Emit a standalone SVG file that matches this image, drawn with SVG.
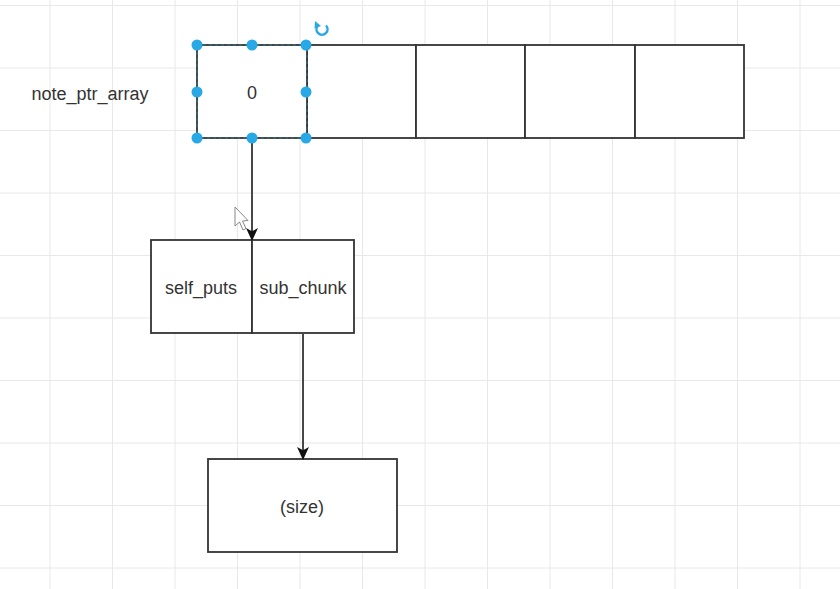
<svg xmlns="http://www.w3.org/2000/svg" width="840" height="589" viewBox="0 0 840 589">
<defs>
<style>
.grid line{stroke:#e8e8e8;stroke-width:1}
.box{fill:#ffffff;stroke:#333333;stroke-width:1.8}
.lbl{font-family:"Liberation Sans",Arial,sans-serif;font-size:18px;fill:#333333;text-anchor:middle;dominant-baseline:central}
.edge{stroke:#333333;stroke-width:1.8;fill:none}
.handle{fill:#29a8e6}
</style>
<marker id="arr" viewBox="0 0 12 12" refX="11" refY="6" markerWidth="13" markerHeight="13" markerUnits="userSpaceOnUse" orient="auto">
<path d="M0,0.5 L12,6 L0,11.5 L3,6 Z" fill="#111111"/>
</marker>
</defs>
<rect width="840" height="589" fill="#ffffff"/>
<g class="grid">
<line x1="50" y1="0" x2="50" y2="589"/>
<line x1="112.5" y1="0" x2="112.5" y2="589"/>
<line x1="175" y1="0" x2="175" y2="589"/>
<line x1="237.5" y1="0" x2="237.5" y2="589"/>
<line x1="300" y1="0" x2="300" y2="589"/>
<line x1="362.5" y1="0" x2="362.5" y2="589"/>
<line x1="425" y1="0" x2="425" y2="589"/>
<line x1="487.5" y1="0" x2="487.5" y2="589"/>
<line x1="550" y1="0" x2="550" y2="589"/>
<line x1="612.5" y1="0" x2="612.5" y2="589"/>
<line x1="675" y1="0" x2="675" y2="589"/>
<line x1="737.5" y1="0" x2="737.5" y2="589"/>
<line x1="800" y1="0" x2="800" y2="589"/>
<line x1="0" y1="5.5" x2="840" y2="5.5"/>
<line x1="0" y1="68" x2="840" y2="68"/>
<line x1="0" y1="130.5" x2="840" y2="130.5"/>
<line x1="0" y1="193" x2="840" y2="193"/>
<line x1="0" y1="255.5" x2="840" y2="255.5"/>
<line x1="0" y1="318" x2="840" y2="318"/>
<line x1="0" y1="380.5" x2="840" y2="380.5"/>
<line x1="0" y1="443" x2="840" y2="443"/>
<line x1="0" y1="505.5" x2="840" y2="505.5"/>
<line x1="0" y1="568" x2="840" y2="568"/>
</g>
<g id="label-note_ptr_array">
<text class="lbl" x="90" y="94">note_ptr_array</text>
</g>
<g id="cell1"><rect class="box" x="307" y="45" width="109" height="93"/></g>
<g id="cell2"><rect class="box" x="416" y="45" width="109" height="93"/></g>
<g id="cell3"><rect class="box" x="525" y="45" width="110" height="93"/></g>
<g id="cell4"><rect class="box" x="635" y="45" width="109" height="93"/></g>
<g id="cell0">
<rect class="box" x="197" y="45" width="110" height="93"/>
<rect x="197" y="45" width="110" height="93" fill="none" stroke="#2a7a8c" stroke-width="1" stroke-dasharray="3,3"/>
<text class="lbl" x="252" y="93">0</text>
</g>
<g id="self_puts">
<rect class="box" x="151" y="240" width="101" height="93"/>
<text class="lbl" x="201" y="288">self_puts</text>
</g>
<g id="sub_chunk">
<rect class="box" x="252" y="240" width="102" height="93"/>
<text class="lbl" x="303" y="288">sub_chunk</text>
</g>
<g id="size">
<rect class="box" x="208" y="459" width="189" height="93"/>
<text class="lbl" x="302" y="507">(size)</text>
</g>
<g id="connectors">
<line class="edge" x1="252" y1="139" x2="252" y2="240" marker-end="url(#arr)"/>
<line class="edge" x1="303" y1="334" x2="303" y2="459" marker-end="url(#arr)"/>
</g>
<g id="selection">
<circle class="handle" cx="197" cy="45" r="5.5"/>
<circle class="handle" cx="252" cy="45" r="5.5"/>
<circle class="handle" cx="306" cy="45" r="5.5"/>
<circle class="handle" cx="197" cy="92" r="5.5"/>
<circle class="handle" cx="306" cy="92" r="5.5"/>
<circle class="handle" cx="197" cy="138" r="5.5"/>
<circle class="handle" cx="252" cy="138" r="5.5"/>
<circle class="handle" cx="306" cy="138" r="5.5"/>
<path d="M326,25.5 A5.5,5.5 0 1 1 318,25.5" fill="none" stroke="#29a8e6" stroke-width="2.5"/>
<path d="M315,21 L321,26 L314.5,28.5 Z" fill="#29a8e6"/>
</g>
<g id="cursor">
<path d="M235,207 L235,226 L239.5,222 L243,230 L246,228.5 L242.5,221 L248,220.5 Z" fill="#ffffff" stroke="#888888" stroke-width="1"/>
</g>
</svg>
